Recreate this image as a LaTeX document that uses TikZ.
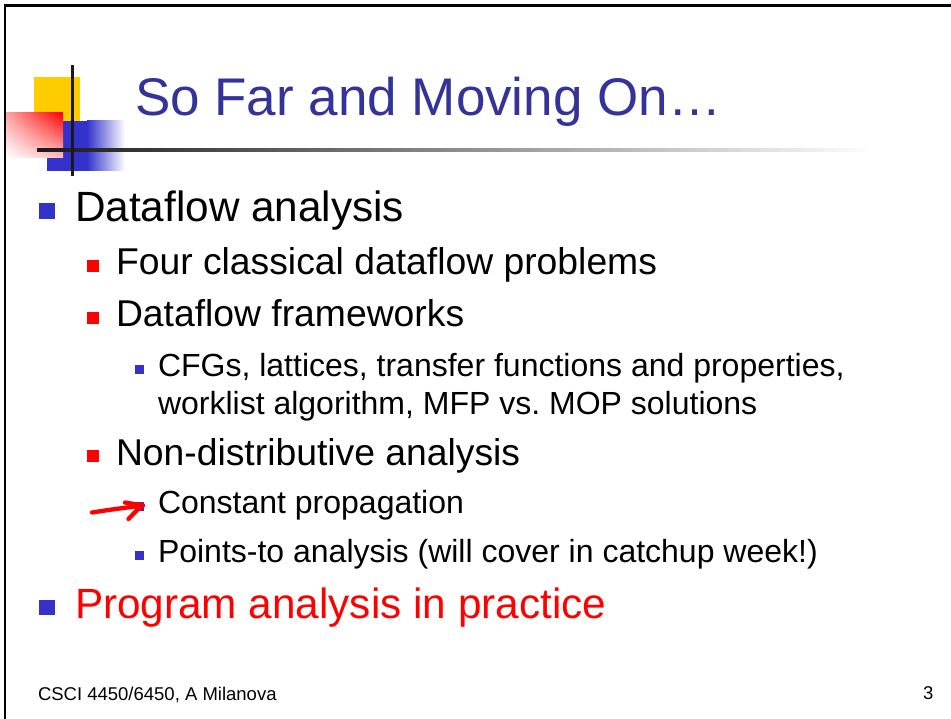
\documentclass[tikz,border=0pt]{standalone}
\usepackage{fontspec}
\usetikzlibrary{shadings}
\setmainfont{Liberation Sans}
\frenchspacing
\definecolor{titleblue}{HTML}{333399}
\definecolor{bulblue}{HTML}{3333CC}
\definecolor{decyellow}{HTML}{FFCC00}
\definecolor{decred}{HTML}{FF0000}
\definecolor{decblack}{HTML}{1A1A1A}
\begin{document}
\begin{tikzpicture}[x=1pt,y=-1pt,
  txt/.style={anchor=base west,inner sep=0pt,outer sep=0pt},
  titletxt/.style={txt,text=titleblue,font=\fontsize{53}{60}\selectfont},
  lvlone/.style={txt,font=\fontsize{42.3}{50}\selectfont},
  lvltwo/.style={txt,font=\fontsize{37.3}{44}\selectfont},
  lvlthree/.style={txt,font=\fontsize{32}{38}\selectfont},
  foot/.style={inner sep=0pt,outer sep=0pt,font=\fontsize{18.5}{22}\selectfont},
  bul/.style={inner sep=0pt,outer sep=0pt,anchor=center,draw=none},
  bulone/.style={bul,fill=bulblue,minimum size=15.5pt},
  bultwo/.style={bul,fill=decred,minimum size=12pt},
  bulthree/.style={bul,fill=bulblue,minimum size=9pt},
  annot/.style={decred,line width=4.3pt,line cap=round,line join=round}
]
\useasboundingbox (0,0) rectangle (951,719);
\fill[white] (0,0) rectangle (951,719);
% frame
\fill[black] (3.5,4.5) rectangle (951,7);
\fill[black] (3.5,4.5) rectangle (6,719);
% decoration
\fill[decyellow] (34,77) rectangle (80,121);
\fill[bulblue] (47,121) rectangle (87,171);
\shade[left color=bulblue,right color=white] (87,121) rectangle (125,171);
\shade[upper right=decred,lower left=white,upper left=decred!35,lower right=decred!25] (6,113) rectangle (63,158);
\shade[left color=black!90,right color=white] (37,148.5) rectangle (875,151.5);
\fill[decblack] (70.5,65) rectangle (73.5,176);
% title
\node[titletxt] (title) at (135,116) {So Far and Moving On…};
% level 1
\node[bulone] (b1) at (47,211) {};
\node[lvlone] (t1) at (75,222) {Dataflow analysis};
% level 2
\node[bultwo] (b2) at (93,266) {};
\node[lvltwo] (t2) at (116,275) {Four classical dataflow problems};
\node[bultwo] (b3) at (93,318) {};
\node[lvltwo] (t3) at (116,327) {Dataflow frameworks};
% level 3
\node[bulthree] (b4) at (139.5,370) {};
\node[lvlthree] (t4) at (158,377) {CFGs, lattices, transfer functions and properties,};
\node[lvlthree] (t5) at (158,414) {worklist algorithm, MFP vs.\ MOP solutions};
\node[bultwo] (b6) at (93,456) {};
\node[lvltwo] (t6) at (116,465) {Non-distributive analysis};
\node[bulthree] (b7) at (139.5,506) {};
\node[lvlthree] (t7) at (158,513.5) {Constant propagation};
\node[bulthree] (b8) at (139.5,555) {};
\node[lvlthree] (t8) at (158,562.5) {Points-to analysis (will cover in catchup week!)};
\node[bulone] (b9) at (47,607.5) {};
\node[lvlone,text=decred] (t9) at (75,618) {Program analysis in practice};
% hand-drawn arrow
\coordinate (as) at (92,512.5);
\coordinate (at) at (143,505.5);
\coordinate (ah1) at (125,502.5);
\coordinate (ah2) at (128.5,519);
\draw[annot] (as) .. controls (115,509) .. (at);
\draw[annot] (ah1) -- (at) .. controls (137,510) .. (ah2);
% footer
\node[foot,anchor=base west] (f1) at (38,700.5) {CSCI 4450/6450, A Milanova};
\node[foot,anchor=base east] (f2) at (933.5,699.5) {3};
\end{tikzpicture}
\end{document}
